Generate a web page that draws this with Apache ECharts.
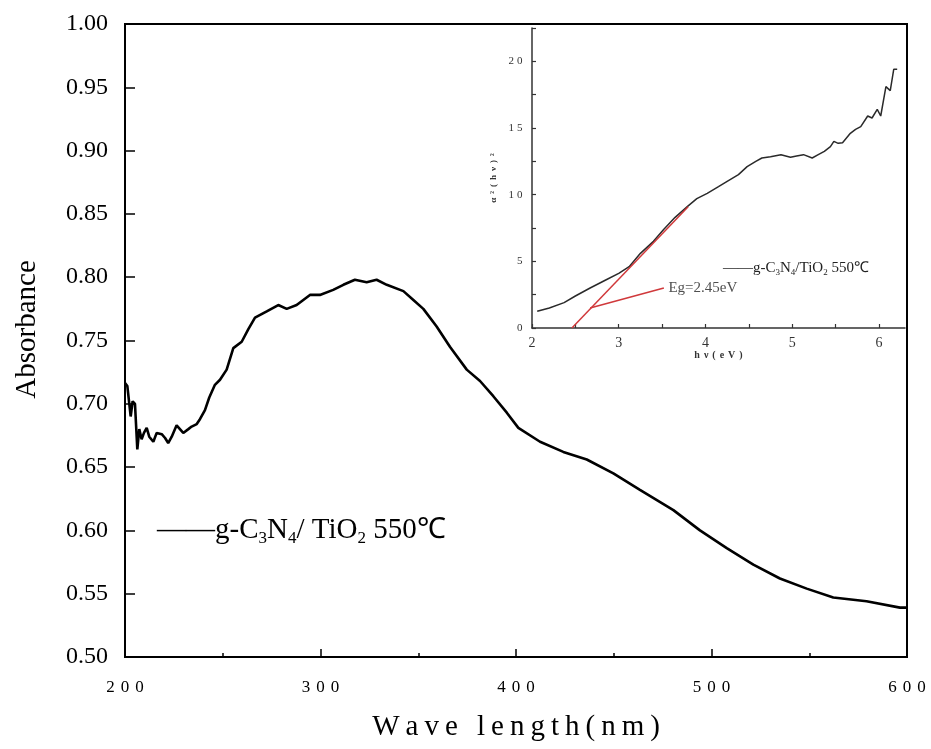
<!DOCTYPE html>
<html>
<head>
<meta charset="utf-8">
<script src="https://cdn.jsdelivr.net/npm/echarts@6/dist/echarts.min.js"></script>
<style>html,body{margin:0;padding:0;background:#fff}#c{width:931px;height:749px}</style>
</head>
<body>
<div id="c"></div>
<script>
// ---- Main spectrum data ----
const wavelength = [200, 201.2, 202.2, 202.9, 203.9, 205.1, 206.3, 207.3, 208.5, 209.7, 211.1, 212.4, 214.5, 216.2, 218.8, 220.5, 222.1, 223.9, 226.4, 229.8, 232.4, 234.1, 236.7, 238.4, 240.9, 243.1, 246.0, 248.6, 252.0, 255.4, 259.7, 263.1, 266.5, 272.5, 278.4, 282.7, 287.8, 294.6, 299.7, 306.5, 311.7, 317.6, 323.6, 328.7, 333.9, 342.4, 347.5, 352.6, 359.4, 366.2, 374.8, 381.6, 388.4, 395.3, 401.2, 412.3, 424.2, 436.2, 449.8, 463.4, 480.5, 494.1, 507.8, 521.4, 535.0, 548.7, 562.3, 579.3, 596.4, 600];
const absorbance = [0.7165, 0.714, 0.700, 0.690, 0.702, 0.700, 0.664, 0.680, 0.672, 0.677, 0.681, 0.674, 0.670, 0.677, 0.676, 0.673, 0.669, 0.674, 0.683, 0.677, 0.680, 0.682, 0.684, 0.688, 0.695, 0.705, 0.715, 0.719, 0.727, 0.744, 0.749, 0.759, 0.768, 0.773, 0.778, 0.775, 0.778, 0.786, 0.786, 0.790, 0.794, 0.798, 0.796, 0.798, 0.794, 0.789, 0.782, 0.775, 0.761, 0.745, 0.727, 0.718, 0.706, 0.693, 0.681, 0.670, 0.662, 0.656, 0.645, 0.632, 0.616, 0.600, 0.586, 0.573, 0.562, 0.554, 0.547, 0.544, 0.539, 0.539];

// ---- Inset (Tauc plot) data ----
const photonEnergy = [2.06, 2.2, 2.37, 2.5, 2.67, 2.85, 3.0, 3.12, 3.25, 3.4, 3.52, 3.65, 3.79, 3.9, 4.02, 4.15, 4.25, 4.38, 4.48, 4.58, 4.65, 4.75, 4.87, 4.98, 5.05, 5.13, 5.23, 5.3, 5.37, 5.44, 5.48, 5.53, 5.58, 5.67, 5.73, 5.79, 5.87, 5.92, 5.98, 6.02, 6.08, 6.13, 6.17, 6.21];
const taucValue = [1.25, 1.5, 1.9, 2.4, 3.0, 3.6, 4.1, 4.6, 5.6, 6.5, 7.4, 8.3, 9.1, 9.7, 10.1, 10.6, 11.0, 11.5, 12.1, 12.5, 12.75, 12.85, 13.0, 12.8, 12.9, 13.0, 12.75, 13.0, 13.25, 13.6, 14.0, 13.85, 13.9, 14.6, 14.9, 15.1, 15.9, 15.75, 16.4, 15.9, 18.1, 17.8, 19.4, 19.4];
const tangentEnergy = [2.46, 3.80];
const tangentValue = [0, 9.1];
const arrowStart = [2.67, 1.5];
const arrowEnd = [3.52, 3.0];
const egLabelPoint = [3.55, 3.0];
const egLabelText = 'Eg=2.45eV';

// ---- Ticks / text ----
const mainXTicks = [200, 300, 400, 500, 600];
const mainYTicks = [0.50, 0.55, 0.60, 0.65, 0.70, 0.75, 0.80, 0.85, 0.90, 0.95, 1.00];
const insetXTicks = [2, 2.5, 3, 3.5, 4, 4.5, 5, 5.5, 6];
const insetXLabels = [2, 3, 4, 5, 6];
const insetYLabels = [0, 5, 10, 15, 20];
const xAxisTitle = 'Wave length(nm)';
const yAxisTitle = 'Absorbance';
const insetXTitle = 'hν(eV)';
const insetYTitle = 'α²(hν)²';

const SERIF = '"Liberation Serif", "Times New Roman", serif';
const zip = (a, b) => a.map((v, i) => [v, b[i]]);
const spaced = (s, st) => String(s).split('').map(c => '{' + st + '|' + c + '}').join('');

const chart = echarts.init(document.getElementById('c'), null, {renderer: 'canvas'});
chart.setOption({
  animation: false,
  backgroundColor: '#fff',
  grid: [
    {left: 125, top: 24, right: 24, bottom: 92, show: true, borderColor: '#000', borderWidth: 2, backgroundColor: 'transparent'},
    {left: 532, top: 28, width: 373, height: 300, show: false}
  ],
  xAxis: [
    {
      gridIndex: 0, type: 'value', min: 200, max: 600, interval: 100,
      axisLine: {lineStyle: {color: '#000', width: 2}},
      axisTick: {inside: true, length: 8, lineStyle: {color: '#000', width: 1.5}},
      minorTick: {show: true, splitNumber: 2, length: 4, lineStyle: {color: '#000', width: 1.5}},
      splitLine: {show: false},
      axisLabel: {
        margin: 22, color: '#000',
        formatter: v => mainXTicks.includes(v) ? spaced(v, 'd') : '',
        rich: {d: {fontFamily: SERIF, fontSize: 17, color: '#000', padding: [0, 3, 0, 3]}}
      },
      name: spaced(xAxisTitle, 't'), nameLocation: 'middle', nameGap: 56,
      nameTextStyle: {rich: {t: {fontFamily: SERIF, fontSize: 29, color: '#000', padding: [0, 3, 0, 3]}}}
    },
    {
      gridIndex: 1, type: 'value', min: 2, max: 6.3,
      axisLine: {lineStyle: {color: '#333', width: 1.5}},
      axisTick: {inside: true, length: 4, customValues: insetXTicks, lineStyle: {color: '#333', width: 1.2}},
      splitLine: {show: false},
      axisLabel: {margin: 8, customValues: insetXLabels, fontFamily: SERIF, fontSize: 14, color: '#333'},
      name: spaced(insetXTitle, 'n'), nameLocation: 'middle', nameGap: 22,
      nameTextStyle: {rich: {n: {fontFamily: SERIF, fontSize: 10, fontWeight: 'bold', color: '#333', padding: [0, 2, 0, 2]}}}
    }
  ],
  yAxis: [
    {
      gridIndex: 0, type: 'value', min: 0.5, max: 1.0, interval: 0.05,
      axisLine: {lineStyle: {color: '#000', width: 2}},
      axisTick: {inside: true, length: 10, lineStyle: {color: '#000', width: 1.5}},
      splitLine: {show: false},
      axisLabel: {margin: 17, fontFamily: SERIF, fontSize: 24, color: '#000',
        formatter: v => { const t = mainYTicks.find(x => Math.abs(x - v) < 1e-6); return t === undefined ? '' : t.toFixed(2); }},
      name: yAxisTitle, nameLocation: 'middle', nameGap: 83, nameRotate: 90,
      nameTextStyle: {fontFamily: SERIF, fontSize: 29, color: '#000', padding: [0, 0, 0, 22]}
    },
    {
      gridIndex: 1, type: 'value', min: 0, max: 22.5, interval: 2.5,
      axisLine: {lineStyle: {color: '#333', width: 1.5}},
      axisTick: {inside: true, length: 4, lineStyle: {color: '#333', width: 1.2}},
      splitLine: {show: false},
      axisLabel: {margin: 8,
        formatter: v => insetYLabels.includes(v) ? spaced(v, 'y') : '',
        rich: {y: {fontFamily: SERIF, fontSize: 11, color: '#333', padding: [0, 1.5, 0, 1.5]}}},
      name: spaced(insetYTitle, 'n'), nameLocation: 'middle', nameGap: 34, nameRotate: 90,
      nameTextStyle: {rich: {n: {fontFamily: SERIF, fontSize: 9, fontWeight: 'bold', color: '#333', padding: [0, 2, 0, 2]}}}
    }
  ],
  series: [
    {
      type: 'line', xAxisIndex: 0, yAxisIndex: 0, data: zip(wavelength, absorbance),
      showSymbol: false, symbol: 'none', lineStyle: {color: '#000', width: 2.6}
    },
    {
      type: 'line', xAxisIndex: 1, yAxisIndex: 1, data: zip(photonEnergy, taucValue),
      showSymbol: false, symbol: 'none', lineStyle: {color: '#2a2a2a', width: 1.5}
    },
    {
      type: 'line', xAxisIndex: 1, yAxisIndex: 1, data: zip(tangentEnergy, tangentValue),
      showSymbol: false, symbol: 'none', lineStyle: {color: '#d0393b', width: 1.5}, z: 3,
      markLine: {
        silent: true, symbol: ['none', 'arrow'], symbolSize: [0, 8],
        label: {show: false},
        lineStyle: {color: '#d0393b', width: 1.5, type: 'solid'},
        data: [[{coord: arrowStart}, {coord: arrowEnd}]]
      }
    },
    {
      type: 'scatter', xAxisIndex: 1, yAxisIndex: 1, data: [egLabelPoint], symbolSize: 0,
      label: {show: true, position: 'right', distance: 2, formatter: egLabelText,
        fontFamily: SERIF, fontSize: 15, color: '#222'}
    }
  ],
  graphic: [
    {
      type: 'text', x: 157, y: 530,
      style: {
        text: '{l|——}{n|g-C}{s|3}{n|N}{s|4}{n|/ TiO}{s|2}{n| 550℃}',
        verticalAlign: 'middle', fill: '#000',
        rich: {
          l: {fontFamily: SERIF, fontSize: 29, lineHeight: 35, fill: '#000'},
          n: {fontFamily: SERIF, fontSize: 29, lineHeight: 35, fill: '#000'},
          s: {fontFamily: SERIF, fontSize: 17, verticalAlign: 'bottom', fill: '#000'}
        }
      }
    },
    {
      type: 'text', x: 723, y: 268,
      style: {
        text: '{l|——}{n|g-C}{s|3}{n|N}{s|4}{n|/TiO}{s|2}{n| 550℃}',
        verticalAlign: 'middle', fill: '#222',
        rich: {
          l: {fontFamily: SERIF, fontSize: 15, lineHeight: 18, fill: '#222'},
          n: {fontFamily: SERIF, fontSize: 15, lineHeight: 18, fill: '#222'},
          s: {fontFamily: SERIF, fontSize: 9, verticalAlign: 'bottom', fill: '#222'}
        }
      }
    }
  ]
});
</script>
</body>
</html>
